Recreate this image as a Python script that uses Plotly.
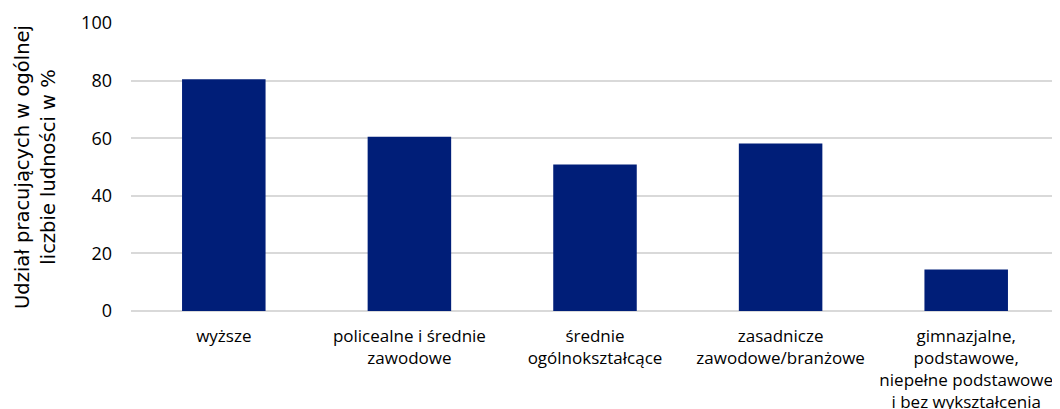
import plotly.graph_objects as go

categories = [
    "wyższe",
    "policealne i średnie<br>zawodowe",
    "średnie<br>ogólnokształcące",
    "zasadnicze<br>zawodowe/branżowe",
    "gimnazjalne,<br>podstawowe,<br>niepełne podstawowe<br>i bez wykształcenia",
]
values = [80.5, 60.5, 50.9, 58.2, 14.4]
y_ticks = [0, 20, 40, 60, 80, 100]

font_family = "Open Sans, Noto Sans, sans-serif"
title_family = "DejaVu Sans, Liberation Sans, sans-serif"

fig = go.Figure(
    go.Bar(
        x=categories,
        y=values,
        marker=dict(color="#001E78", line=dict(width=0)),
    )
)

# page body has an 8px margin, so offsets are compensated
fig.update_layout(
    width=1060,
    height=409,
    margin=dict(l=123, r=9, t=15, b=106),
    paper_bgcolor="white",
    plot_bgcolor="white",
    bargap=0.55,
    showlegend=False,
    font=dict(family=font_family, color="#000000"),
)

fig.update_xaxes(
    tickfont=dict(size=17, family=font_family, color="#000000"),
    showgrid=False,
    showline=False,
    ticks="",
    ticklabelstandoff=13,
    automargin=False,
)

fig.update_yaxes(
    range=[0, 100],
    tickvals=y_ticks,
    tickfont=dict(size=18, family=font_family, color="#000000"),
    showgrid=True,
    gridcolor="#D9D9D9",
    gridwidth=1.5,
    zeroline=True,
    zerolinecolor="#D9D9D9",
    zerolinewidth=1.5,
    showline=False,
    ticks="",
    ticklabelstandoff=18,
    automargin=False,
    title=dict(
        text="Udział pracujących w ogólnej<br>liczbie ludności w %",
        font=dict(size=19.5, family=title_family, color="#000000"),
        standoff=20,
    ),
)

fig.write_html("out.html")
